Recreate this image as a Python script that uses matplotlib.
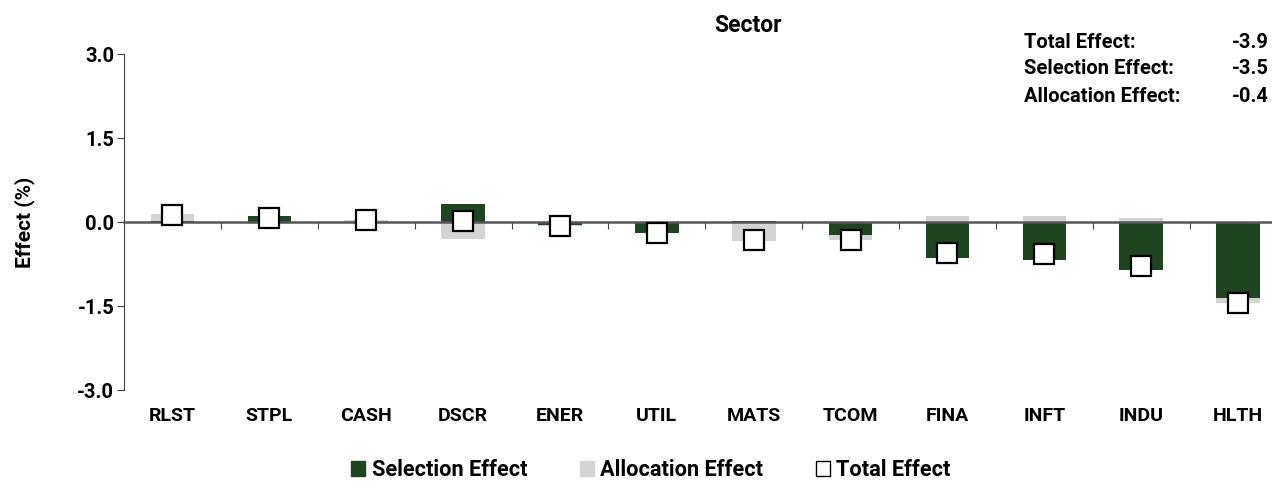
import numpy as np
import matplotlib
matplotlib.use("Agg")
from matplotlib import pyplot as plt
from matplotlib.patches import Patch

plt.rcParams['font.family'] = ['Roboto', 'DejaVu Sans']
plt.rcParams['font.weight'] = 'bold'
plt.rcParams['axes.labelweight'] = 'bold'

sectors = ["RLST", "STPL", "CASH", "DSCR", "ENER", "UTIL", "MATS", "TCOM", "FINA", "INFT", "INDU", "HLTH"]
selection = [0.02, 0.10, 0.00, 0.32, -0.05, -0.19, 0.02, -0.24, -0.65, -0.67, -0.86, -1.35]
allocation = [0.12, -0.03, 0.03, -0.31, -0.02, -0.01, -0.34, -0.09, 0.10, 0.10, 0.08, -0.10]
total = [0.13, 0.07, 0.03, 0.01, -0.07, -0.20, -0.32, -0.33, -0.55, -0.57, -0.78, -1.45]

summary_labels = ["Total Effect:", "Selection Effect:", "Allocation Effect:"]
summary_values = ["-3.9", "-3.5", "-0.4"]

green = "#1f4520"
grey = "#d3d4d6"

sel = np.array(selection)
alc = np.array(allocation)
# grey stacks on the green bar when both go the same way
bottom = np.where(np.sign(sel) == np.sign(alc), sel, 0)

fig = plt.figure(figsize=(12.72, 4.87), dpi=100)
ax = fig.add_axes([124/1272, 1 - 390/487, 1 - 124/1272, 336/487])

x = np.arange(len(sectors))
ax.bar(x, sel, width=0.45, color=green, zorder=2)
ax.bar(x, alc, width=0.45, bottom=bottom, color=grey, zorder=1)
ax.plot(x, total, ls='none', marker='s', markersize=15, markerfacecolor='white',
        markeredgecolor='black', markeredgewidth=1.6, zorder=4)

ax.set_ylim(-3, 3)
ax.set_xlim(-0.5, 11.35)
ax.set_yticks([-3, -1.5, 0, 1.5, 3])
ax.set_yticklabels(["%.1f" % v for v in [-3, -1.5, 0, 1.5, 3]])
ax.tick_params(axis='y', labelsize=14.5, length=5, color='#444444', pad=2)
ax.set_ylabel("Effect (%)", fontsize=15)
ax.yaxis.set_label_coords(-0.0775, 0.5)

ax.spines['top'].set_visible(False)
ax.spines['right'].set_visible(False)
ax.spines['left'].set_color('#444444')
ax.spines['bottom'].set_position(('data', 0))
ax.spines['bottom'].set_color('#555555')
ax.spines['bottom'].set_linewidth(1.8)
ax.spines['bottom'].set_zorder(3)
ax.set_xticks(x[:-1] + 0.5)
ax.tick_params(axis='x', labelbottom=False, length=5, color='#444444', direction='out')

sec = ax.secondary_xaxis('bottom')
sec.set_xticks(x, sectors)
sec.tick_params(length=0, labelsize=14, pad=12)
sec.spines['bottom'].set_visible(False)

fig.text(748/1272, 1 - 26/487, "Sector", ha='center', va='center', fontsize=16.5)
for i in range(3):
    yy = 1 - (42 + 27*i)/487
    fig.text(1024/1272, yy, summary_labels[i], ha='left', va='center', fontsize=14.5)
    fig.text(1269/1272, yy, summary_values[i], ha='right', va='center', fontsize=14.5)

handles = [Patch(facecolor=green, edgecolor=green),
           Patch(facecolor=grey, edgecolor=grey),
           Patch(facecolor='white', edgecolor='black', linewidth=1)]
fig.legend(handles, ["Selection Effect", "Allocation Effect", "Total Effect"],
           loc='center', bbox_to_anchor=(651/1272, 1 - 470/487), ncol=3, frameon=False,
           fontsize=15.7, handlelength=0.65, handleheight=0.65, handletextpad=0.3,
           columnspacing=2.4)

fig.savefig("out.png", dpi=100)
